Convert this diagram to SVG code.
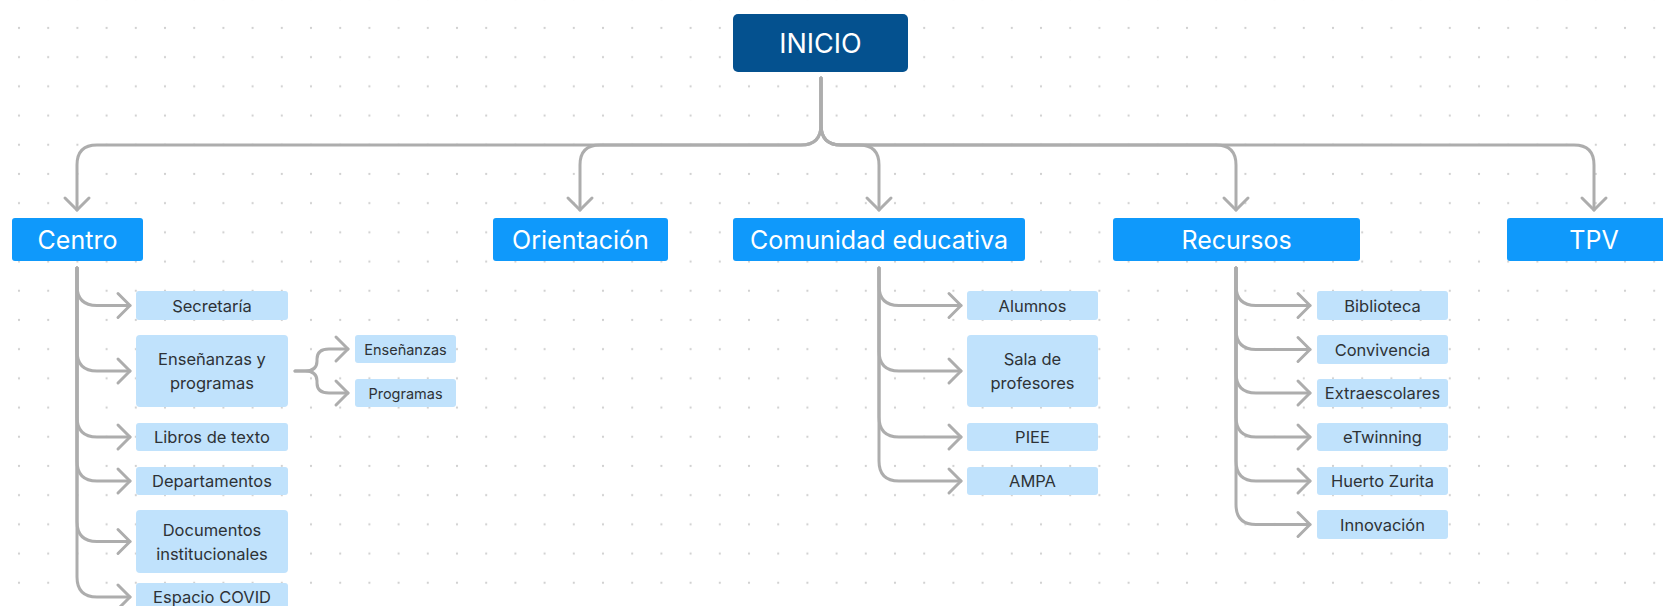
<svg xmlns="http://www.w3.org/2000/svg" width="1663" height="606" viewBox="0 0 1663 606">
<style>
.top rect{fill:#0F99FB}
.top text{fill:#fff;font-family:Inter,"Noto Sans",sans-serif;font-size:25px;text-anchor:middle;dominant-baseline:central}
.sub rect{fill:#C0E2FC}
.sub text{fill:#2e3236;font-family:Inter,"Noto Sans",sans-serif;font-size:16.5px;text-anchor:middle;dominant-baseline:central}
.sm text{font-size:14.5px}
#connectors path{fill:none;stroke:#adadad;stroke-width:3;stroke-linecap:round;stroke-linejoin:round}
#connectors path.a{marker-end:url(#arr)}
</style>
<defs>
<pattern id="dots" patternUnits="userSpaceOnUse" x="4.4" y="13.4" width="29.2" height="29.2">
<circle cx="14.6" cy="14.6" r="1.1" fill="#cfcfcf"/>
</pattern>
<marker id="arr" markerUnits="userSpaceOnUse" viewBox="-16 -16 20 32" refX="0" refY="0" markerWidth="20" markerHeight="32" orient="auto" overflow="visible">
<path d="M-12,-12 L0,0 L-12,12" fill="none" stroke="#adadad" stroke-width="3" stroke-linecap="round" stroke-linejoin="round"/>
</marker>
</defs>
<rect width="1663" height="606" fill="#fff"/>
<rect width="1663" height="606" fill="url(#dots)"/>

<g id="connectors">
<path class="a" d="M821,78 V125 Q821,145 801,145 H97 Q77,145 77,165 V210"/>
<path class="a" d="M821,78 V125 Q821,145 801,145 H600 Q580,145 580,165 V210"/>
<path class="a" d="M821,78 V125 Q821,145 841,145 H859 Q879,145 879,165 V210"/>
<path class="a" d="M821,78 V125 Q821,145 841,145 H1216 Q1236,145 1236,165 V210"/>
<path class="a" d="M821,78 V125 Q821,145 841,145 H1574 Q1594,145 1594,165 V210"/>

<path class="a" d="M77,268 V285.5 Q77,305.5 97,305.5 H130"/>
<path class="a" d="M77,268 V351 Q77,371 97,371 H130"/>
<path class="a" d="M77,268 V417 Q77,437 97,437 H130"/>
<path class="a" d="M77,268 V461 Q77,481 97,481 H130"/>
<path class="a" d="M77,268 V521.5 Q77,541.5 97,541.5 H130"/>
<path class="a" d="M77,268 V577 Q77,597 97,597 H130"/>

<path class="a" d="M295,371 H305 Q317,371 317,361 V359 Q317,349 329,349 H348"/>
<path class="a" d="M295,371 H305 Q317,371 317,381 V383 Q317,393 329,393 H348"/>

<path class="a" d="M879,268 V285.5 Q879,305.5 899,305.5 H961"/>
<path class="a" d="M879,268 V351 Q879,371 899,371 H961"/>
<path class="a" d="M879,268 V417 Q879,437 899,437 H961"/>
<path class="a" d="M879,268 V461 Q879,481 899,481 H961"/>

<path class="a" d="M1236,268 V285.5 Q1236,305.5 1256,305.5 H1310"/>
<path class="a" d="M1236,268 V329.5 Q1236,349.5 1256,349.5 H1310"/>
<path class="a" d="M1236,268 V373 Q1236,393 1256,393 H1310"/>
<path class="a" d="M1236,268 V417 Q1236,437 1256,437 H1310"/>
<path class="a" d="M1236,268 V461 Q1236,481 1256,481 H1310"/>
<path class="a" d="M1236,268 V504.5 Q1236,524.5 1256,524.5 H1310"/>
</g>

<g id="inicio">
<rect x="733" y="14" width="175" height="58" rx="5" fill="#04518F"/>
<text x="820.5" y="43" fill="#fff" font-family="Inter,'Noto Sans',sans-serif" font-size="27" text-anchor="middle" dominant-baseline="central">INICIO</text>
</g>

<g id="centro" class="top"><rect x="12" y="218" width="131" height="43" rx="3"/><text x="77.5" y="239.5">Centro</text></g>
<g id="orientacion" class="top"><rect x="493" y="218" width="175" height="43" rx="3"/><text x="580.5" y="239.5">Orientación</text></g>
<g id="comunidad" class="top"><rect x="733" y="218" width="292" height="43" rx="3"/><text x="879" y="239.5">Comunidad educativa</text></g>
<g id="recursos" class="top"><rect x="1113" y="218" width="247" height="43" rx="3"/><text x="1236.5" y="239.5">Recursos</text></g>
<g id="tpv" class="top"><rect x="1507" y="218" width="174" height="43" rx="3"/><text x="1594" y="239.5">TPV</text></g>

<g id="secretaria" class="sub"><rect x="136" y="291" width="152" height="29" rx="3"/><text x="212" y="305.5">Secretaría</text></g>
<g id="ensenanzas-programas" class="sub"><rect x="136" y="335" width="152" height="72" rx="4"/><text x="212" y="359">Enseñanzas y</text><text x="212" y="383">programas</text></g>
<g id="libros" class="sub"><rect x="136" y="423" width="152" height="28" rx="3"/><text x="212" y="437">Libros de texto</text></g>
<g id="departamentos" class="sub"><rect x="136" y="467" width="152" height="28" rx="3"/><text x="212" y="481">Departamentos</text></g>
<g id="documentos" class="sub"><rect x="136" y="510" width="152" height="63" rx="4"/><text x="212" y="529.5">Documentos</text><text x="212" y="553.5">institucionales</text></g>
<g id="covid" class="sub"><rect x="136" y="583" width="152" height="29" rx="3"/><text x="212" y="597">Espacio COVID</text></g>

<g id="ensenanzas" class="sub sm"><rect x="355" y="335" width="101" height="28" rx="3"/><text x="405.5" y="349">Enseñanzas</text></g>
<g id="programas" class="sub sm"><rect x="355" y="379" width="101" height="28" rx="3"/><text x="405.5" y="393">Programas</text></g>

<g id="alumnos" class="sub"><rect x="967" y="291" width="131" height="29" rx="3"/><text x="1032.5" y="305.5">Alumnos</text></g>
<g id="sala" class="sub"><rect x="967" y="335" width="131" height="72" rx="4"/><text x="1032.5" y="359">Sala de</text><text x="1032.5" y="383">profesores</text></g>
<g id="piee" class="sub"><rect x="967" y="423" width="131" height="28" rx="3"/><text x="1032.5" y="437">PIEE</text></g>
<g id="ampa" class="sub"><rect x="967" y="467" width="131" height="28" rx="3"/><text x="1032.5" y="481">AMPA</text></g>

<g id="biblioteca" class="sub"><rect x="1317" y="291" width="131" height="29" rx="3"/><text x="1382.5" y="305.5">Biblioteca</text></g>
<g id="convivencia" class="sub"><rect x="1317" y="335" width="131" height="29" rx="3"/><text x="1382.5" y="349.5">Convivencia</text></g>
<g id="extraescolares" class="sub"><rect x="1317" y="379" width="131" height="28" rx="3"/><text x="1382.5" y="393">Extraescolares</text></g>
<g id="etwinning" class="sub"><rect x="1317" y="423" width="131" height="28" rx="3"/><text x="1382.5" y="437">eTwinning</text></g>
<g id="huerto" class="sub"><rect x="1317" y="467" width="131" height="28" rx="3"/><text x="1382.5" y="481">Huerto Zurita</text></g>
<g id="innovacion" class="sub"><rect x="1317" y="510" width="131" height="29" rx="3"/><text x="1382.5" y="524.5">Innovación</text></g>
</svg>
